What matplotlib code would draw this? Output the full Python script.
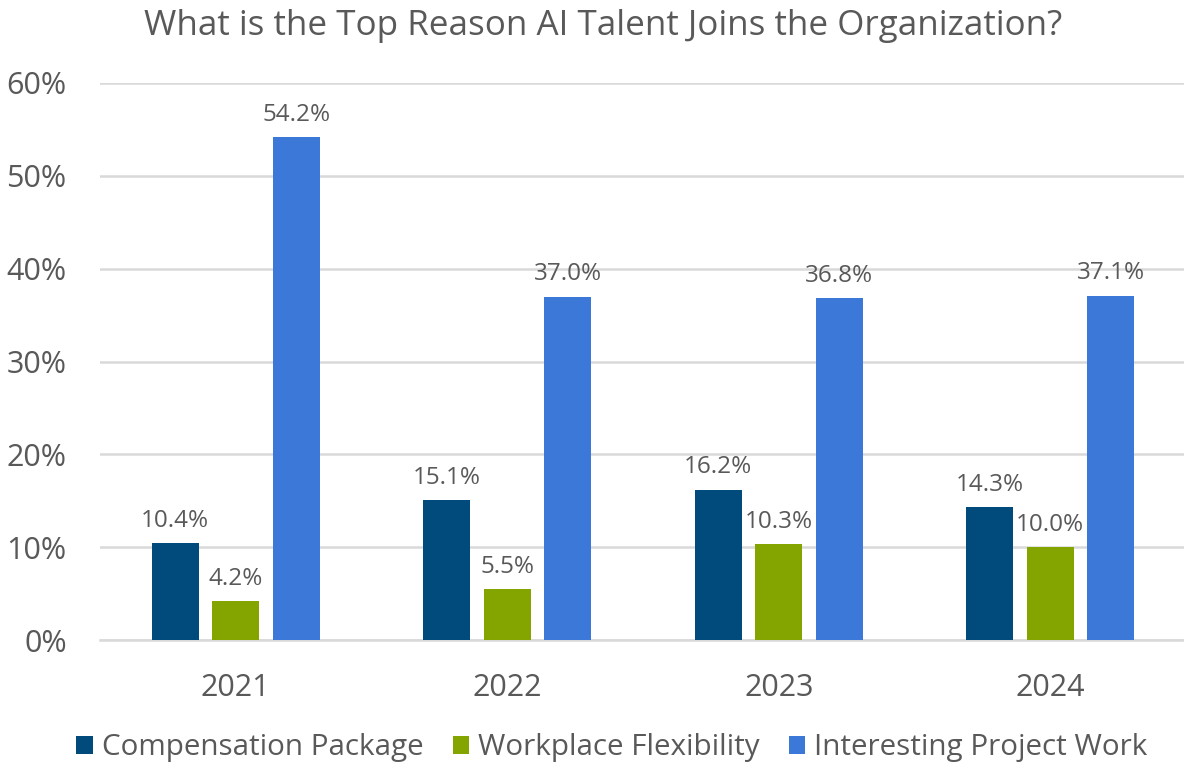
import numpy as np
import matplotlib.pyplot as plt

years = ["2021", "2022", "2023", "2024"]
series_names = ["Compensation Package", "Workplace Flexibility", "Interesting Project Work"]
compensation = [10.4, 15.1, 16.2, 14.3]
flexibility = [4.2, 5.5, 10.3, 10.0]
project_work = [54.2, 37.0, 36.8, 37.1]
colors = ["#004A7C", "#84A500", "#3C78D8"]

plt.rcParams['font.family'] = ['Open Sans', 'DejaVu Sans']
text_color = "#595959"

fig = plt.figure(figsize=(11.84, 7.69), dpi=100)
# axes runs a touch past the right edge so gridlines reach it
ax = fig.add_axes([100 / 1184, 1 - 640 / 769, 1086 / 1184, 557 / 769])

x = np.arange(len(years))
width = 0.173
step = 0.223
for i, (vals, name) in enumerate(zip([compensation, flexibility, project_work], series_names)):
    pos = x + (i - 1) * step
    bars = ax.bar(pos, vals, width, color=colors[i], label=name, zorder=3)
    for b, v in zip(bars, vals):
        ax.text(b.get_x() + b.get_width() / 2, v + 1.1, f"{v:.1f}%", ha="center", va="bottom",
                fontsize=17.5, color=text_color)

ax.set_ylim(0, 60)
ax.set_xlim(-0.5, 3.5)
ax.set_yticks(range(0, 61, 10))
ax.set_yticklabels([f"{t}%" for t in range(0, 61, 10)])
ax.set_xticks(x)
ax.set_xticklabels(years)
ax.tick_params(axis="both", length=0, labelsize=22, colors=text_color)
ax.tick_params(axis="y", pad=24)
ax.tick_params(axis="x", pad=24)
ax.grid(axis="y", color="#d9d9d9", linewidth=1.8, zorder=0)
for s in ["top", "right", "left"]:
    ax.spines[s].set_visible(False)
ax.spines["bottom"].set_color("#d9d9d9")
ax.spines["bottom"].set_linewidth(1.8)

fig.suptitle("What is the Top Reason AI Talent Joins the Organization?", x=603 / 1184, y=1 - 26 / 769,
             va="center", fontsize=25.2, color=text_color)

fig.legend(loc="center", bbox_to_anchor=(612 / 1184, 1 - 748 / 769), ncol=3, frameon=False,
           fontsize=21.3, labelcolor=text_color, handlelength=0.55, handleheight=0.55,
           handletextpad=0.3, columnspacing=1.0)

fig.savefig("out.png", dpi=100)
